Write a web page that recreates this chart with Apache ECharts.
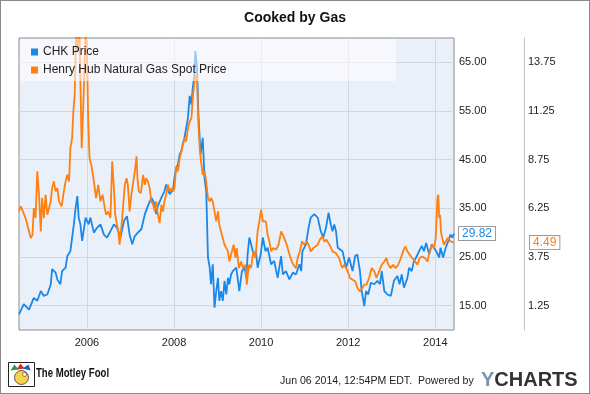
<!DOCTYPE html>
<html><head><meta charset="utf-8">
<script src="https://cdn.jsdelivr.net/npm/echarts@6.0.0/dist/echarts.min.js"></script>
<style>
html,body{margin:0;padding:0;background:#fff}
#c{width:590px;height:394px}
#f{position:absolute;left:0;top:0;width:590px;height:394px;box-sizing:border-box;border:1px solid #8a8a8a;pointer-events:none}
</style>
</head><body><div id="c"></div><div id="f"></div>
<script>
// ---- data (dates as fractional years) ----
const chkDates = [2004.44,2004.55,2004.67,2004.78,2004.86,2004.94,2005.01,2005.09,2005.17,2005.20,2005.28,2005.32,2005.39,2005.43,2005.51,2005.55,2005.62,2005.66,2005.70,2005.74,2005.78,2005.81,2005.85,2005.89,2005.97,2006.04,2006.08,2006.16,2006.23,2006.31,2006.39,2006.46,2006.54,2006.62,2006.69,2006.77,2006.85,2006.92,2006.98,2007.04,2007.10,2007.17,2007.25,2007.33,2007.40,2007.48,2007.56,2007.59,2007.63,2007.71,2007.78,2007.82,2007.90,2007.98,2008.01,2008.05,2008.09,2008.13,2008.17,2008.20,2008.24,2008.28,2008.32,2008.36,2008.40,2008.43,2008.47,2008.49,2008.53,2008.56,2008.61,2008.66,2008.70,2008.74,2008.78,2008.82,2008.85,2008.89,2008.93,2008.97,2009.01,2009.04,2009.08,2009.12,2009.16,2009.20,2009.24,2009.27,2009.31,2009.35,2009.43,2009.50,2009.56,2009.62,2009.66,2009.69,2009.73,2009.77,2009.81,2009.85,2009.88,2009.92,2009.99,2010.04,2010.10,2010.15,2010.23,2010.30,2010.38,2010.46,2010.50,2010.57,2010.65,2010.73,2010.80,2010.88,2010.92,2010.95,2011.03,2011.09,2011.14,2011.22,2011.30,2011.37,2011.43,2011.49,2011.55,2011.60,2011.64,2011.68,2011.72,2011.76,2011.80,2011.87,2011.95,2012.02,2012.10,2012.16,2012.21,2012.27,2012.31,2012.37,2012.41,2012.46,2012.52,2012.60,2012.67,2012.73,2012.77,2012.83,2012.90,2012.98,2013.05,2013.13,2013.18,2013.23,2013.28,2013.36,2013.40,2013.46,2013.51,2013.56,2013.63,2013.69,2013.74,2013.79,2013.86,2013.92,2013.97,2014.02,2014.09,2014.12,2014.18,2014.24,2014.30,2014.35,2014.39,2014.43];
const chkValues = [13.2,15.3,14.2,16.6,16.0,18.0,17.0,17.3,19.4,22.5,21.8,20.4,19.4,22.1,22.8,25.2,26.2,29.0,31.7,35.1,37.5,33.1,31.7,28.3,33.1,31.7,33.1,30.0,31.0,31.7,29.6,29.0,30.3,31.7,31.0,29.0,32.4,33.4,29.6,27.6,29.3,30.0,30.7,33.8,35.5,37.2,35.8,33.8,35.5,37.2,38.5,39.9,37.9,38.9,41.3,43.3,44.0,46.1,46.8,48.1,49.5,51.5,53.6,58.1,56.3,59.8,62.5,67.3,63.9,54.3,46.1,49.5,41.3,38.5,24.9,22.8,19.4,23.5,14.6,18.0,20.7,16.0,18.0,16.0,20.1,17.3,20.7,19.4,21.4,22.1,22.8,18.0,22.1,22.8,20.7,25.5,29.0,29.3,26.2,25.5,26.2,22.8,25.5,29.0,26.2,26.9,23.5,24.2,20.7,25.2,21.4,22.1,20.4,21.8,21.4,23.5,22.1,26.2,27.6,31.0,33.1,33.8,33.1,30.3,29.0,31.0,34.1,31.7,30.3,31.7,30.3,26.9,27.3,26.2,22.8,24.9,22.1,25.2,25.5,22.1,18.0,14.9,18.0,17.3,19.7,19.4,20.1,19.4,22.1,18.0,17.3,17.0,20.1,21.1,19.4,21.4,18.7,20.7,22.8,22.1,24.2,24.9,26.2,27.3,26.2,27.9,25.5,27.6,26.9,26.2,24.9,26.9,24.9,26.9,28.3,29.6,29.0,29.82];

const gasDates = [2004.44,2004.48,2004.53,2004.59,2004.65,2004.71,2004.75,2004.78,2004.82,2004.86,2004.90,2004.94,2004.97,2005.01,2005.05,2005.09,2005.17,2005.20,2005.24,2005.28,2005.32,2005.36,2005.42,2005.47,2005.51,2005.55,2005.59,2005.62,2005.66,2005.69,2005.72,2005.75,2005.79,2005.83,2005.86,2005.88,2005.93,2005.97,2006.00,2006.03,2006.06,2006.10,2006.16,2006.21,2006.26,2006.31,2006.36,2006.41,2006.44,2006.49,2006.54,2006.58,2006.62,2006.65,2006.72,2006.75,2006.81,2006.87,2006.91,2006.94,2006.98,2007.02,2007.06,2007.10,2007.14,2007.16,2007.19,2007.24,2007.29,2007.33,2007.36,2007.40,2007.44,2007.48,2007.52,2007.56,2007.59,2007.63,2007.67,2007.71,2007.75,2007.78,2007.82,2007.86,2007.90,2007.94,2007.98,2008.01,2008.05,2008.09,2008.13,2008.17,2008.20,2008.24,2008.28,2008.32,2008.36,2008.40,2008.43,2008.47,2008.50,2008.53,2008.56,2008.59,2008.62,2008.66,2008.70,2008.74,2008.78,2008.82,2008.85,2008.89,2008.93,2008.97,2009.01,2009.04,2009.08,2009.12,2009.16,2009.20,2009.24,2009.27,2009.31,2009.37,2009.41,2009.44,2009.49,2009.54,2009.59,2009.64,2009.67,2009.72,2009.77,2009.82,2009.87,2009.92,2009.96,2010.00,2010.04,2010.08,2010.11,2010.15,2010.19,2010.23,2010.28,2010.34,2010.40,2010.46,2010.50,2010.53,2010.59,2010.63,2010.69,2010.74,2010.80,2010.84,2010.89,2010.94,2010.99,2011.05,2011.09,2011.14,2011.20,2011.24,2011.30,2011.35,2011.41,2011.45,2011.50,2011.57,2011.64,2011.72,2011.79,2011.86,2011.91,2011.99,2012.04,2012.10,2012.16,2012.21,2012.27,2012.31,2012.37,2012.42,2012.48,2012.54,2012.60,2012.65,2012.71,2012.77,2012.83,2012.88,2012.92,2012.98,2013.03,2013.09,2013.15,2013.21,2013.26,2013.31,2013.36,2013.41,2013.47,2013.54,2013.59,2013.64,2013.70,2013.76,2013.82,2013.87,2013.92,2013.97,2014.01,2014.03,2014.05,2014.07,2014.09,2014.11,2014.13,2014.16,2014.20,2014.24,2014.28,2014.31,2014.35,2014.39,2014.43];
const gasValues = [6.09,6.35,6.09,5.75,5.24,4.72,4.89,6.26,5.75,8.15,6.95,5.06,6.78,5.75,6.95,5.92,6.61,7.29,7.63,7.12,7.29,6.61,6.35,7.12,7.63,7.97,7.63,9.34,9.86,11.31,12.08,15.4,14.3,15.3,11.57,9.34,12.42,15.4,14.5,10.71,8.83,8.49,7.63,6.78,7.46,6.61,6.95,6.26,5.92,6.09,5.75,8.66,7.29,5.92,5.06,4.38,5.75,7.46,7.80,7.46,6.09,6.95,6.95,8.15,8.92,7.80,7.12,7.03,7.97,7.46,7.80,7.63,7.29,6.61,6.43,6.09,6.61,5.92,5.49,6.43,6.09,6.61,6.95,7.46,7.12,7.29,7.12,7.29,8.40,8.15,8.83,9.17,9.51,9.86,9.69,10.37,10.71,10.88,11.91,12.77,13.11,12.77,10.54,9.34,8.66,7.97,8.15,7.63,6.78,6.61,6.78,6.61,6.09,5.58,6.09,5.41,5.06,4.72,4.38,4.21,4.04,3.52,3.87,4.38,3.70,4.21,3.18,3.52,3.18,3.35,2.33,3.35,3.18,4.04,3.70,5.06,5.58,6.18,5.58,5.66,5.58,4.89,4.55,4.04,4.21,4.12,4.38,5.06,4.89,4.72,4.38,4.04,3.61,3.35,3.18,3.70,4.04,4.55,4.38,4.55,4.38,4.04,4.21,4.21,4.38,4.64,4.81,4.55,4.64,4.38,4.04,3.95,3.70,3.18,3.35,3.01,2.67,2.58,2.50,2.16,1.98,1.90,2.33,2.33,2.67,3.18,3.01,2.67,3.01,3.35,3.52,3.70,3.35,3.18,3.35,3.18,3.35,3.70,4.04,4.29,4.04,3.87,3.70,3.52,3.35,3.70,3.78,3.70,3.52,4.04,4.38,4.21,4.72,5.75,6.78,6.95,5.75,5.92,5.06,4.72,4.38,4.55,4.72,4.81,4.55,4.47,4.49];

const xTickYears = [2006, 2008, 2010, 2012, 2014];
const chkTicks = [15, 25, 35, 45, 55, 65];
const gasTicks = [1.25, 3.75, 6.25, 8.75, 11.25, 13.75];
const seriesNames = ['CHK Price', 'Henry Hub Natural Gas Spot Price'];

// ---- chart ----
const FONT = '"Liberation Sans", Arial, Helvetica, sans-serif';
const BLUE = '#1b87e6', ORANGE = '#ff7f0f';
const zip = (a, b) => a.map((d, i) => [d, b[i]]);

const chart = echarts.init(document.getElementById('c'), null, {renderer: 'canvas'});
chart.setOption({
  animation: false,
  textStyle: {fontFamily: FONT},
  title: {
    text: 'Cooked by Gas', left: 'center', top: 6,
    textStyle: {fontSize: 14, fontWeight: 'bold', color: '#111', fontFamily: FONT}
  },
  legend: {
    orient: 'vertical', left: 26, top: 40, itemGap: 4,
    icon: 'rect', itemWidth: 7, itemHeight: 7,
    textStyle: {fontSize: 12, color: '#222', lineHeight: 14, fontFamily: FONT},
    data: seriesNames, z: 10
  },
  grid: {
    left: 19, top: 38, right: 136, bottom: 64,
    show: true, backgroundColor: '#eaf0fa', borderColor: '#8c8c8c', borderWidth: 1
  },
  xAxis: {
    type: 'value', min: 2004.44, max: 2014.43,
    axisLine: {show: false}, axisTick: {show: false, customValues: xTickYears},
    axisLabel: {customValues: xTickYears, formatter: v => String(Math.round(v)),
      color: '#222', fontSize: 11, margin: 7, fontFamily: FONT},
    splitLine: {show: true, lineStyle: {color: '#d4d6da', width: 1}}
  },
  yAxis: [{
    type: 'value', position: 'right', min: 10, max: 70,
    axisLine: {show: false}, axisTick: {show: false, customValues: chkTicks},
    axisLabel: {customValues: chkTicks, formatter: v => v.toFixed(2),
      color: '#222', fontSize: 11, margin: 5, fontFamily: FONT},
    splitLine: {show: true, lineStyle: {color: '#d4d6da', width: 1}}
  }, {
    type: 'value', position: 'right', offset: 70, min: 0, max: 15,
    axisLine: {show: true, lineStyle: {color: '#c4c4c4'}},
    axisTick: {show: false, customValues: gasTicks},
    axisLabel: {customValues: gasTicks, formatter: v => v.toFixed(2),
      color: '#222', fontSize: 11, margin: 4, fontFamily: FONT},
    splitLine: {show: false}
  }],
  series: [{
    name: seriesNames[0], type: 'line', yAxisIndex: 0, showSymbol: false, symbol: 'none',
    lineStyle: {color: BLUE, width: 1.8}, itemStyle: {color: BLUE}, z: 2,
    data: zip(chkDates, chkValues),
    endLabel: {show: true, distance: 5, formatter: p => p.value[1].toFixed(2),
      color: BLUE, fontSize: 12, backgroundColor: '#fff', borderColor: '#9a9a9a',
      borderWidth: 1, padding: [1, 3, 0, 3], fontFamily: FONT}
  }, {
    name: seriesNames[1], type: 'line', yAxisIndex: 1, showSymbol: false, symbol: 'none',
    lineStyle: {color: ORANGE, width: 1.8}, itemStyle: {color: ORANGE}, z: 2,
    data: zip(gasDates, gasValues),
    endLabel: {show: true, distance: 76, formatter: p => p.value[1].toFixed(2),
      color: ORANGE, fontSize: 12, backgroundColor: '#fff', borderColor: '#9a9a9a',
      borderWidth: 1, padding: [1, 3, 0, 3], fontFamily: FONT}
  }],
  graphic: [
    // translucent legend panel over the plot
    {type: 'rect', z: 5, silent: true, shape: {x: 20, y: 39, width: 376, height: 42},
      style: {fill: 'rgba(255,255,255,0.55)'}},
    // Motley Fool jester logo (approximation)
    {type: 'group', left: 8, top: 362, children: [
      {type: 'rect', shape: {x: 0, y: 0, width: 26, height: 24}, style: {fill: '#fff', stroke: '#222', lineWidth: 1}},
      {type: 'polygon', shape: {points: [[2,8],[6,2],[10,7]]}, style: {fill: '#2a9d3a'}},
      {type: 'polygon', shape: {points: [[8,7],[12,1],[16,6]]}, style: {fill: '#d8262b'}},
      {type: 'polygon', shape: {points: [[14,6],[20,2],[22,8]]}, style: {fill: '#2456c8'}},
      {type: 'circle', shape: {cx: 13, cy: 15, r: 7}, style: {fill: '#f6d34a', stroke: '#333', lineWidth: 0.8}},
      {type: 'circle', shape: {cx: 16, cy: 12, r: 2}, style: {fill: '#fff', stroke: '#333', lineWidth: 0.6}}
    ]},
    {type: 'text', x: 36, y: 368, scaleX: 0.8, style: {text: 'The Motley Fool', fill: '#111',
      font: 'bold 12px "Liberation Sans", Arial, sans-serif'}},
    {type: 'text', x: 280, y: 375, scaleX: 0.96, style: {text: 'Jun 06 2014, 12:54PM EDT.  Powered by', fill: '#222',
      font: '11px "Liberation Sans", Arial, sans-serif'}},
    {type: 'text', left: 481, top: 370, style: {
      text: '{y|Y}{c|CHARTS}',
      rich: {
        y: {fill: '#7b93b0', font: 'bold 20px "Liberation Sans", Arial, sans-serif'},
        c: {fill: '#333', font: 'bold 20px "Liberation Sans", Arial, sans-serif'}
      }}}
  ]
});
</script>
</body></html>
